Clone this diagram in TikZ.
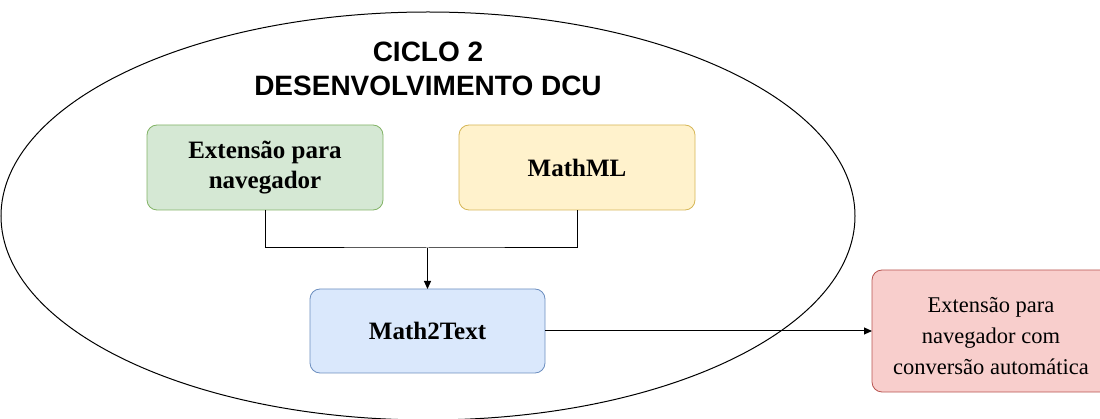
\documentclass[tikz,border=0pt]{standalone}
\usepackage{fontspec}
\setmainfont{Liberation Serif}
\newfontfamily\titlefont{Liberation Sans}
\usetikzlibrary{arrows.meta}
\definecolor{gfill}{HTML}{D5E8D4}\definecolor{gline}{HTML}{82B366}
\definecolor{yfill}{HTML}{FFF2CC}\definecolor{yline}{HTML}{D6B656}
\definecolor{bfill}{HTML}{DAE8FC}\definecolor{bline}{HTML}{6C8EBF}
\definecolor{rfill}{HTML}{F8CECC}\definecolor{rline}{HTML}{B85450}
\tikzset{
  box/.style={rounded corners=10pt, line width=0.8pt, align=center,
    font=\fontsize{25}{30}\selectfont\bfseries},
  conn/.style={line width=1pt, draw=black},
  tip/.style={-{Triangle[length=8pt,width=7pt]}}
}
\begin{document}
\begin{tikzpicture}[x=1pt,y=-1pt]
  \useasboundingbox (0,0) rectangle (1100,419);
  % cycle boundary
  \draw[line width=1pt] (428,216) ellipse [x radius=427, y radius=204];
  \node[font=\titlefont\fontsize{28}{34}\selectfont\bfseries, align=center] (title) at (428,69)
    {CICLO 2\\DESENVOLVIMENTO DCU};
  % process boxes
  \draw[box, fill=gfill, draw=gline] (147,125) rectangle (383,210);
  \node[box] (ext) at (265,167.5) {Extensão para\\navegador};
  \draw[box, fill=yfill, draw=yline] (459,125) rectangle (695,210);
  \node[box] (mml) at (577,167.5) {MathML};
  \draw[box, fill=bfill, draw=bline] (310,289) rectangle (545,373);
  \node[box] (m2t) at (427.5,331) {Math2Text};
  \draw[box, fill=rfill, draw=rline] (872,270) rectangle (1110,392);
  \node[box, font=\fontsize{22.5}{31}\selectfont] (res) at (991,336)
    {Extensão para\\navegador com\\conversão automática};
  % anchors on the box edges
  \coordinate (extB) at (265,210);
  \coordinate (mmlB) at (577,210);
  \coordinate (join) at (427.5,248);
  \coordinate (m2tT) at (427.5,289);
  \coordinate (m2tR) at (545,331);
  \coordinate (resL) at (872,331);
  % connectors
  \draw[conn] (extB) |- (join) -| (mmlB);
  \draw[conn, tip] (join) -- (m2tT);
  \draw[conn, tip] (m2tR) -- (resL);
\end{tikzpicture}
\end{document}
